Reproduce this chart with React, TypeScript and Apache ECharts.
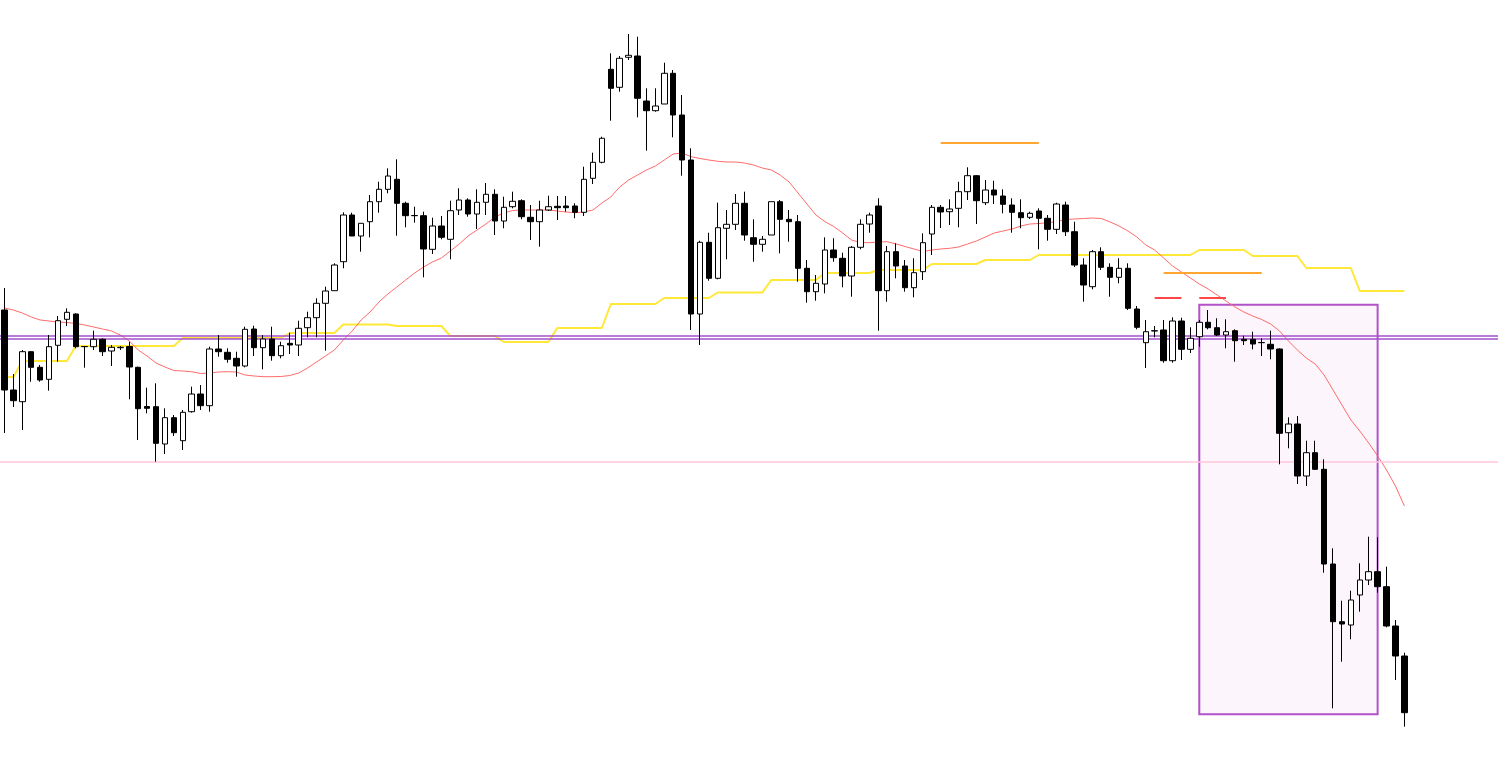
import React, { useEffect, useRef } from "react";
import * as echarts from "echarts";

// 168 slots on the time axis; only the first 158 hold bars
const categories: string[] = Array.from({ length: 168 }, (_, i) => `${i + 1}`);

// [open, close, low, high] in chart points
const candles: number[][] = [
  [490, 410, 367, 512], [410, 399.3, 393, 426], [398.3, 448.3, 370, 450], [448.3, 432.7, 418.3, 449],
  [432.7, 420, 418.3, 435], [420.7, 453.3, 409.3, 465], [454.7, 479.3, 438.3, 484], [480.7, 487.7, 474, 491.7],
  [486, 453.3, 451.7, 486.7], [453.5, 453.3, 432.3, 454], [453.3, 460.7, 450, 469.3], [460.7, 448.3, 444, 461.7],
  [449, 452.7, 434, 455], [452.3, 452.7, 450, 454], [453.5, 433, 400.7, 458.3], [432.7, 391.3, 360, 433.3],
  [393.5, 391.7, 386.7, 412.3], [393.3, 356.7, 338.3, 416.7], [356, 382.3, 346, 391.7], [382.3, 367.3, 364, 385],
  [359.3, 387.7, 350, 390], [388.3, 406, 387.3, 413.3], [406, 394.3, 390, 415], [394.3, 451, 388.3, 453.3],
  [451, 448.3, 443.3, 465], [447.7, 440.7, 437.3, 451.7], [441.7, 434, 423.3, 448.3], [434, 470.7, 432.7, 473.3],
  [471, 452.3, 444, 474.3], [452.3, 461, 430.7, 465], [461, 444.3, 439.3, 473.3], [444.3, 454.3, 441.7, 458.3],
  [456.7, 455, 446, 467.3], [455, 471.7, 444, 479.3], [472.3, 482.3, 462.7, 488.3], [482.3, 496.7, 462.7, 501.7],
  [496.7, 509, 449.3, 513.3], [509.3, 535, 509.3, 536.7], [538.3, 585, 531.7, 587.7], [585, 564, 564, 587.3],
  [564, 576.7, 548.3, 576.7], [578.3, 598.3, 562.7, 605], [598.3, 610.7, 587.3, 618.3], [610.7, 624, 606.7, 631.7],
  [620.7, 596.7, 564.3, 640.7], [596.7, 584.3, 572.7, 598.3], [584.5, 584.3, 577.3, 593.3], [584.3, 551, 522.7, 588.3],
  [550.7, 574, 546, 582.3], [574, 562.7, 560.7, 584], [560.7, 589.3, 540.7, 599.3], [590, 600, 585, 611.7],
  [600, 586, 583.3, 601.7], [586, 597.7, 571, 610.7], [597.7, 605.7, 585, 617], [605.7, 579, 565, 610.7],
  [579, 592.7, 571.7, 603.3], [593.3, 598.7, 591.7, 608.3], [599.3, 583.3, 580.7, 600.7], [582.7, 578.3, 560, 595],
  [578.3, 590, 553.3, 599.3], [590, 593.3, 589, 604.3], [593.7, 592.3, 580, 604], [594, 592.3, 588.3, 604],
  [594, 587.7, 581.7, 596.7], [587.7, 620.7, 584, 633.3], [621.7, 637.7, 616, 647.3], [637.7, 661.7, 636.7, 663.3],
  [730.7, 711.7, 679.3, 746.7], [712.7, 741.7, 708.3, 744], [742.7, 744.7, 740, 766], [744, 701.7, 682.7, 763.3],
  [699, 689.3, 649.3, 711.7], [689.3, 694, 688.3, 711.7], [696, 726.7, 696, 737.3], [726.7, 685, 662.7, 730],
  [685, 640, 624.3, 705], [640, 486, 470, 651.7], [486, 557.7, 455, 559.3], [557.7, 521.7, 519.3, 567.3],
  [521.7, 572.3, 520.7, 597.3], [571.7, 575.7, 540.7, 590], [575.7, 596.7, 570, 606], [596.7, 565, 559.3, 608.3],
  [562.3, 555.7, 538.3, 580.7], [555.7, 560.7, 548.3, 564], [565, 598.3, 565, 598.3], [598.3, 580.7, 546.7, 600],
  [580.7, 578.3, 558.3, 590], [578.3, 531.7, 518.3, 585], [531.7, 508.3, 497.3, 540], [508.3, 516.7, 499.3, 525],
  [516, 550, 506.7, 562.7], [550, 542.3, 538.3, 561.7], [541.7, 524, 512.7, 547.3], [524, 552.7, 503.3, 554],
  [552.7, 575.7, 550.7, 580.7], [576, 585, 567.3, 587.3], [594, 509.3, 469.3, 601.7], [509.3, 548.3, 498.3, 554],
  [548.3, 534, 521.7, 556.7], [534, 512.3, 508.3, 540], [512.3, 527.3, 502.7, 541.7], [528.3, 557.3, 520, 566.7],
  [566, 592.7, 545, 595], [592.7, 588, 572, 595], [588.3, 591, 575, 600.7], [591.7, 608.3, 572.7, 618.3],
  [608.3, 624.3, 600, 632.7], [624.3, 599.3, 576, 625], [597.3, 610, 595, 620], [610, 605, 596, 619.3],
  [604, 595.7, 586.7, 610.7], [595, 587.7, 567.3, 601.7], [587.3, 582.3, 571.7, 600.7], [582.7, 586.7, 581, 588.3],
  [589, 581.7, 550.7, 591.7], [581.7, 570.7, 559.3, 585], [570.7, 596, 566, 597.3], [595, 568.3, 564, 598.3],
  [568.3, 535, 533, 578.3], [535, 515, 498.3, 541.7], [513.3, 548.3, 510.7, 550], [548.3, 532.7, 530, 552.7],
  [532.7, 522.7, 503.3, 536.7], [522.7, 531.7, 516.7, 541.7], [531.7, 491.7, 490, 536.7], [491, 472.7, 470.7, 494],
  [457.3, 468.3, 432, 480], [469, 469.3, 462.7, 474], [470, 439.3, 437.3, 480], [439.3, 479, 437.3, 482.7],
  [479, 450.7, 440, 482.3], [450.7, 461.7, 447, 472.7], [463.3, 477.7, 453.3, 480], [477.7, 472.3, 470.7, 490],
  [472.3, 465, 464, 481.7], [465, 468.3, 451.7, 480.7], [469.3, 459.3, 438.3, 470.7], [460.7, 459.3, 455, 464.3],
  [460.7, 456, 450.7, 468.3], [457.5, 457.3, 444, 461.7], [455.7, 451, 440.7, 469.3], [451, 366.7, 335.7, 451.7],
  [367.3, 376, 351.7, 382.7], [376, 324, 316, 384], [324, 347.3, 314, 359.3], [347.3, 330.7, 330, 359.3],
  [330.7, 236, 227.3, 340.7], [236, 178.3, 91.7, 251.7], [178.3, 176, 138.3, 199.3], [175, 200, 160.7, 209.3],
  [205, 220, 188.3, 236.7], [220, 228.3, 215, 263.3], [228.3, 213.3, 207.3, 262.7], [213.3, 174, 172.7, 233.3],
  [174, 144, 120, 180], [144, 87.3, 73.3, 147.3],
];

// moving average (red)
const movingAverage: number[] = [
  492, 490, 487, 483, 480, 479, 478, 477.5, 476.5, 475,
  473, 471, 469, 465, 459, 450, 444, 437, 433, 429.5,
  429, 428.3, 426.5, 427, 428, 428.3, 428, 425, 424, 423.3,
  423.3, 423.5, 424.5, 427, 432, 438, 444, 450, 460, 469,
  480, 488, 498, 506, 513, 520, 527, 533, 538, 542,
  549, 556, 564, 570, 576, 583, 587, 589.5, 590, 590,
  590, 590, 589, 588, 587.3, 588, 590, 597, 603, 613,
  620, 625, 630, 634, 640, 646, 647, 643.3, 641.5, 640,
  638.7, 638, 638, 637, 635, 632, 630, 625, 618, 607,
  596, 585, 578.5, 573.5, 567, 560, 557.5, 557.3, 558, 558.3,
  556, 553.5, 551, 548.5, 550, 551, 551.7, 553, 556, 559,
  563, 567, 569, 571, 574, 576, 576.5, 577.3, 578.5, 580.5,
  581, 581.5, 582, 581.5, 578, 574, 569, 563, 555, 550,
  542, 534, 528, 522, 516, 511, 505, 499, 493, 488,
  484, 480.5, 476, 469, 459, 450, 442, 436, 425, 410,
  395, 380, 369, 357, 344, 330, 314, 294,
];

// stepped mid line (yellow)
const midLine: number[] = [
  423, 423,
  439, 439, 439, 439, 439, 439,
  454, 454, 454, 454, 454, 454, 454, 454, 454, 454, 454, 454,
  462, 462, 462, 462, 462, 462, 462, 462, 462, 462, 462, 462,
  467, 467, 467, 467, 467, 467,
  475.5, 475.5, 475.5, 475.5, 475.5, 475.5,
  474, 474, 474, 474, 474, 474,
  464, 464, 464, 464, 464, 464,
  458, 458, 458, 458, 458, 458,
  472, 472, 472, 472, 472, 472,
  496, 496, 496, 496, 496, 496,
  502, 502, 502, 502, 502, 502,
  507.5, 507.5, 507.5, 507.5, 507.5, 507.5,
  520, 520, 520, 520, 520, 520,
  527, 527, 527, 527, 527, 527,
  530, 530, 530, 530, 530, 530,
  536, 536, 536, 536, 536, 536,
  540, 540, 540, 540, 540, 540,
  545, 545, 545, 545, 545, 545, 545, 545, 545, 545, 545, 545, 545, 545, 545, 545, 545, 545,
  550, 550, 550, 550, 550, 550,
  544, 544, 544, 544, 544, 544,
  532, 532, 532, 532, 532, 532,
  509, 509, 509, 509, 509, 509,
];

// full-width horizontal levels
const purpleLevels: number[] = [464.5, 461];
const pinkLevel = 338.3;

// short segments: [fromIndex, toIndex, value]
const orangeSegments: number[][] = [[105, 116, 657.3], [130, 141, 527.3]];
const redSegments: number[][] = [[129, 132, 502.3], [134, 137, 502.3]];

// highlighted zone: [fromIndex, toIndex, top, bottom]
const zone: number[] = [134, 154, 495.3, 85.7];

const segLines = (segs: number[][], color: string) =>
  segs.map(([a, b, v]) => [
    { coord: [a, v], lineStyle: { color, width: 2, type: "solid" } },
    { coord: [b, v] },
  ]);

export default function App() {
  const ref = useRef<HTMLDivElement>(null);

  useEffect(() => {
    if (!ref.current) return;
    const chart = echarts.init(ref.current, undefined, { renderer: "svg" });
    const option: any = {
      animation: false,
      backgroundColor: "#ffffff",
      grid: { left: -1.5, right: 2, top: 0, bottom: 0 },
      xAxis: { type: "category", data: categories, show: false, boundaryGap: true },
      yAxis: { type: "value", min: 36, max: 800, show: false, splitLine: { show: false } },
      series: [
        {
          name: "Zone",
          type: "line",
          data: [],
          silent: true,
          z: 1,
          markArea: {
            silent: true,
            itemStyle: { color: "#fcf6fc", borderColor: "#b352c8", borderWidth: 2 },
            label: { show: false },
            data: [[{ coord: [zone[0], zone[2]] }, { coord: [zone[1], zone[3]] }]],
          },
        },
        {
          name: "PurpleLevels",
          type: "line",
          data: [],
          silent: true,
          z: 2,
          color: "#a44fcc",
          markLine: {
            silent: true,
            symbol: ["none", "none"],
            label: { show: false },
            lineStyle: { color: "#a44fcc", width: 1.5, type: "solid", opacity: 1 },
            data: purpleLevels.map((v) => ({ yAxis: v })),
          },
        },
        {
          name: "PinkLevel",
          type: "line",
          data: [],
          silent: true,
          z: 2,
          color: "#ffc6da",
          markLine: {
            silent: true,
            symbol: ["none", "none"],
            label: { show: false },
            lineStyle: { color: "#ffc6da", width: 1.5, type: "solid", opacity: 1 },
            data: [{ yAxis: pinkLevel }],
          },
        },
        {
          name: "Segments",
          type: "line",
          data: [],
          silent: true,
          z: 2,
          markLine: {
            silent: true,
            symbol: ["none", "none"],
            label: { show: false },
            lineStyle: { width: 2, type: "solid", opacity: 1 },
            data: [...segLines(orangeSegments, "#ffa630"), ...segLines(redSegments, "#ff4747")],
          },
        },
        {
          name: "Mid",
          type: "line",
          data: midLine,
          showSymbol: false,
          symbol: "none",
          silent: true,
          z: 3,
          lineStyle: { color: "#ffe838", width: 2 },
        },
        {
          name: "MA",
          type: "line",
          data: movingAverage,
          showSymbol: false,
          symbol: "none",
          silent: true,
          z: 3,
          lineStyle: { color: "#ff6b6b", width: 1 },
        },
        {
          name: "Price",
          type: "candlestick",
          data: candles,
          barWidth: 6,
          z: 10,
          itemStyle: {
            color: "#ffffff",
            color0: "#000000",
            borderColor: "#000000",
            borderColor0: "#000000",
            borderColorDoji: "#000000",
            borderWidth: 1,
          },
        },
      ],
    };
    chart.setOption(option);
    return () => chart.dispose();
  }, []);

  return (
    <div
      ref={ref}
      style={{ position: "absolute", left: 0, top: 0, width: 1500, height: 764, background: "#ffffff" }}
    />
  );
}
